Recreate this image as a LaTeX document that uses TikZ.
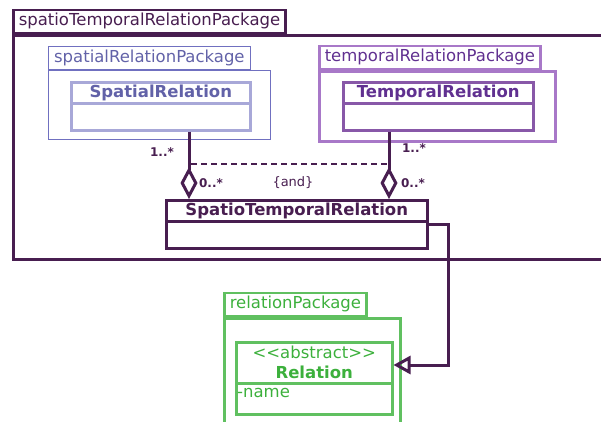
\documentclass[tikz,border=0pt]{standalone}
\usepackage{fontspec}
\setmainfont{DejaVu Sans}
\usetikzlibrary{arrows.meta,positioning}
\definecolor{stpColor}{RGB}{72,30,80}
\definecolor{spaText}{RGB}{98,98,168}
\definecolor{spaPkg}{RGB}{112,112,192}
\definecolor{spaCls}{RGB}{168,168,216}
\definecolor{tmpText}{RGB}{96,48,144}
\definecolor{tmpPkg}{RGB}{168,120,200}
\definecolor{tmpCls}{RGB}{136,88,168}
\definecolor{relText}{RGB}{60,176,60}
\definecolor{relLine}{RGB}{96,192,96}
\tikzset{
  pkgtab/.style={draw, anchor=south west, inner xsep=5.5pt, inner ysep=0pt, minimum height=23pt,
    font=\fontsize{16.5}{19}\selectfont},
  pkgbody/.style={draw, anchor=north west, inner sep=0pt},
  cls/.style={draw, anchor=north west, inner sep=0pt, line width=2.5pt},
  clshead/.style={draw, anchor=north, inner sep=0pt, line width=2.5pt, minimum height=21pt,
    font=\fontsize{16.5}{19}\selectfont\bfseries},
  assoc/.style={draw=stpColor, line width=3pt},
  mult/.style={text=stpColor, inner sep=0pt, font=\fontsize{12}{14}\selectfont\bfseries},
}
\begin{document}
\begin{tikzpicture}[x=1pt,y=1pt,yscale=-1,xscale=1]
	\useasboundingbox (0,0) rectangle (601,421);
	\clip (0,0) rectangle (601,421);
	% outer package
	\node[pkgbody, draw=stpColor, line width=2.5pt, minimum width=600pt, minimum height=224pt] (stpPkg) at (12,34) {};
	\node[pkgtab, draw=stpColor, text=stpColor, line width=2.5pt] (stpTab) at (stpPkg.north west) {spatioTemporalRelationPackage};
	% spatial package
	\node[pkgbody, draw=spaPkg, line width=1.2pt, minimum width=222pt, minimum height=69pt] (spaPkgBody) at (48,70) {};
	\node[pkgtab, draw=spaPkg, text=spaText, line width=1.2pt] (spaTab) at (spaPkgBody.north west) {spatialRelationPackage};
	\node[cls, draw=spaCls, minimum width=179pt, minimum height=48pt] (spatial) at (70,81) {};
	\node[clshead, draw=spaCls, text=spaText, minimum width=179pt] (spatialHead) at (spatial.north) {SpatialRelation};
	% temporal package
	\node[pkgbody, draw=tmpPkg, line width=2.5pt, minimum width=236pt, minimum height=70pt] (tmpPkgBody) at (318,70) {};
	\node[pkgtab, draw=tmpPkg, text=tmpText, line width=2.5pt] (tmpTab) at (tmpPkgBody.north west) {temporalRelationPackage};
	\node[cls, draw=tmpCls, minimum width=190pt, minimum height=48pt] (temporal) at (342,81) {};
	\node[clshead, draw=tmpCls, text=tmpText, minimum width=190pt] (temporalHead) at (temporal.north) {TemporalRelation};
	% spatio-temporal class
	\node[cls, draw=stpColor, minimum width=261pt, minimum height=48pt] (stp) at (165,199) {};
	\node[clshead, draw=stpColor, text=stpColor, minimum width=261pt] (stpHead) at (stp.north) {SpatioTemporalRelation};
	% relation package
	\node[pkgbody, draw=relLine, line width=2.5pt, minimum width=176pt, minimum height=120pt] (relPkgBody) at (223,317) {};
	\node[pkgtab, draw=relLine, text=relText, line width=2.5pt] (relTab) at (relPkgBody.north west) {relationPackage};
	\node[cls, draw=relLine, minimum width=156pt, minimum height=72pt] (relation) at (235,341) {};
	\node[clshead, draw=relLine, text=relText, minimum width=156pt, minimum height=41pt, align=center,
	  font=\fontsize{16.5}{20}\selectfont] (relationHead) at (relation.north)
	  {<\kern0pt<abstract>\kern0pt>\\\textbf{Relation}};
	\node[anchor=west, inner sep=0pt, text=relText, font=\fontsize{16.5}{19}\selectfont] (relationAttr) at (237,393) {-name};
	% aggregations
	\coordinate (spaFoot) at (189,199);
	\coordinate (tmpFoot) at (389,199);
	\draw[assoc, -{Diamond[open, length=32pt, width=17pt]}] (spaFoot |- spatial.south) -- (spaFoot);
	\draw[assoc, -{Diamond[open, length=32pt, width=17pt]}] (tmpFoot |- temporal.south) -- (tmpFoot);
	\coordinate (andL) at (191,164);
	\coordinate (andR) at (388,164);
	\draw[stpColor, line width=2pt, dash pattern={on 6pt off 4pt}] (andL) -- (andR);
	\node[mult] (spaMultA) at (162,152) {1..*};
	\node[mult] (tmpMultA) at (414,148) {1..*};
	\node[mult] (spaMultB) at (211,183) {0..*};
	\node[mult] (tmpMultB) at (413,183) {0..*};
	\node[text=stpColor, inner sep=0pt, font=\fontsize{13}{15}\selectfont] (andLabel) at (293,183) {\{and\}};
	% generalization
	\coordinate (genBendA) at (448,224);
	\coordinate (genBendB) at (448,365);
	\draw[assoc, -{Triangle[open, length=17pt, width=18pt]}] (stp.east |- genBendA) -- (genBendA) -- (genBendB) -- (relation.east |- genBendB);
\end{tikzpicture}
\end{document}
